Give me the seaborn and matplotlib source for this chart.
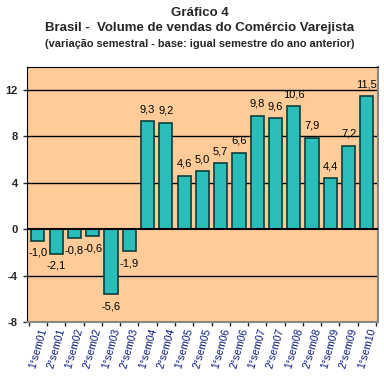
import matplotlib
matplotlib.use("Agg")
from matplotlib import pyplot as plt
import pandas as pd
import seaborn as sns

# data
periodos = ['1°sem01', '2°sem01', '1°sem02', '2°sem02', '1°sem03', '2°sem03',
            '1°sem04', '2°sem04', '1°sem05', '2°sem05', '1°sem06', '2°sem06',
            '1°sem07', '2°sem07', '1°sem08', '2°sem08', '1°sem09', '2°sem09',
            '1°sem10']
variacao = [-1.0, -2.1, -0.8, -0.6, -5.6, -1.9, 9.3, 9.2, 4.6, 5.0, 5.7, 6.6,
            9.8, 9.6, 10.6, 7.9, 4.4, 7.2, 11.5]
y_ticks = [-8, -4, 0, 4, 8, 12]

df = pd.DataFrame({'Periodo': periodos, 'Variacao': variacao})

sns.set_style('white')
plt.rcParams['font.family'] = ['Liberation Sans', 'DejaVu Sans']

fig = plt.figure(figsize=(3.84, 3.85), dpi=100)
ax = fig.add_axes([0.070, 0.164, 0.914, 0.662])
ax.set_facecolor('#FFCC99')

for t in [-4, 4, 8, 12]:
    ax.axhline(t, color='black', lw=1, zorder=1)

sns.barplot(data=df, x='Periodo', y='Variacao', color='#2BBDBA',
            edgecolor='#0B3F3D', linewidth=1.2, width=0.72, saturation=1,
            ax=ax, zorder=3)
ax.axhline(0, color='black', lw=1.5, zorder=4)

for i, v in enumerate(variacao):
    txt = f'{v:.1f}'.replace('.', ',')
    off = 0.6 if v >= 0 else -0.6
    ax.text(i, v + off, txt, ha='center', va='bottom' if v >= 0 else 'top',
            fontsize=8, color='black', zorder=5)

ax.set_ylim(-8, 14)
ax.set_xlim(-0.6, len(periodos) - 0.4)
ax.set_yticks(y_ticks)
ax.set_yticklabels([str(t) for t in y_ticks], fontsize=8, fontweight='bold')
ax.set_xticks(range(len(periodos)))
ax.set_xticklabels(periodos, rotation=74, fontsize=7.5, color='#0A1A80',
                   ha='center', va='top')
ax.set_xticks([i + 0.5 for i in range(-1, len(periodos))], minor=True)
ax.tick_params(axis='x', which='major', length=0, pad=4)
ax.tick_params(axis='x', which='minor', length=3, bottom=True, width=1)
ax.tick_params(axis='y', length=3, left=True, width=1)
ax.set_xlabel('')
ax.set_ylabel('')

for s in ['top', 'left']:
    ax.spines[s].set_color('black')
    ax.spines[s].set_linewidth(0.8)
for s in ['right', 'bottom']:
    ax.spines[s].set_color('#888888')
    ax.spines[s].set_linewidth(1.5)

fig.text(0.52, 0.965, 'Gráfico 4', ha='center', va='center', fontsize=9.5,
         fontweight='bold')
fig.text(0.52, 0.926, 'Brasil -  Volume de vendas do Comércio Varejista',
         ha='center', va='center', fontsize=9.5, fontweight='bold')
fig.text(0.52, 0.886, '(variação semestral - base: igual semestre do ano anterior)',
         ha='center', va='center', fontsize=7.9, fontweight='bold')

fig.savefig('out.png', dpi=100)
